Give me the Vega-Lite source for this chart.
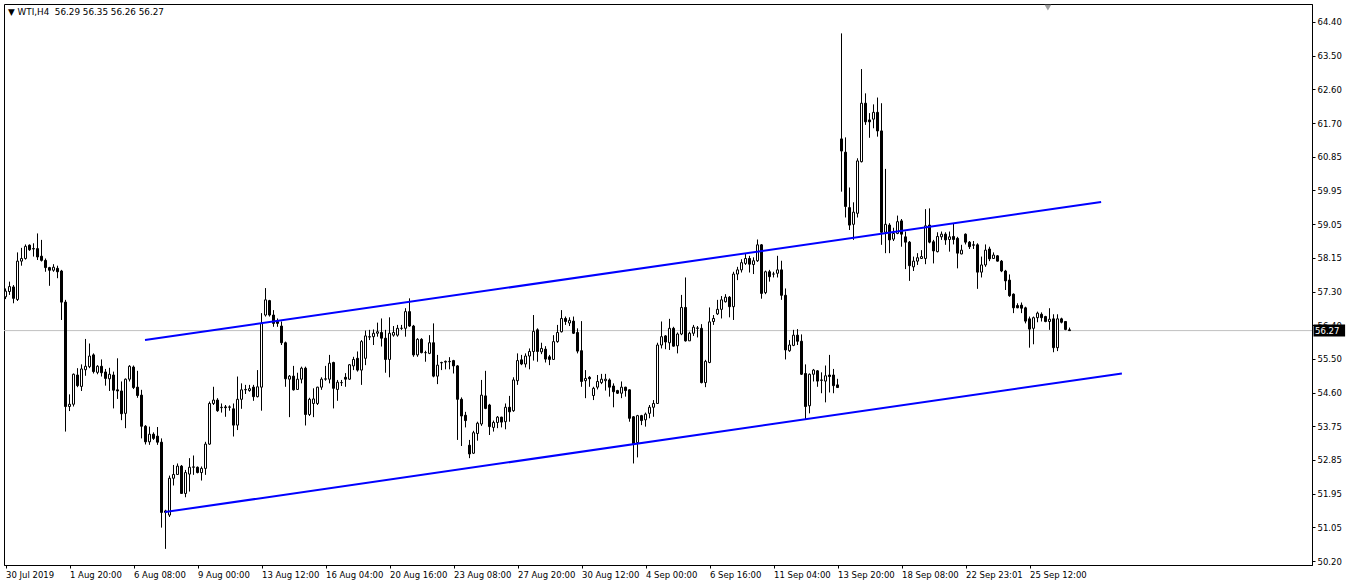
{
"$schema":"https://vega.github.io/schema/vega-lite/v6.json",
"width":1308,"height":561,"autosize":{"type":"none"},
"padding":{"left":4,"top":4,"right":42,"bottom":23},
"background":"white",
"title":{"text":"▼ WTI,H4\u00a0\u00a056.29 56.35 56.26 56.27","anchor":"start","frame":"group","offset":0,"dx":4,"dy":20,"baseline":"alphabetic","font":"DejaVu Sans","fontSize":8.8,"fontWeight":"normal","color":"black"},
"config":{"view":{"stroke":"black","strokeWidth":1},
"scale":{"continuousPadding":0},
"axis":{"grid":false,"domainColor":"black","tickColor":"black","labelColor":"black","labelFont":"DejaVu Sans","labelFontSize":8.5,"title":null,"domainWidth":1,"tickWidth":1,"labelOverlap":false,"labelFlush":false,"labelBound":false,"tickCount":200}},
"datasets":{
"bars":[
{"i":0,"o":57.16,"h":57.38,"l":57.10,"c":57.31},
{"i":1,"o":57.30,"h":57.56,"l":57.21,"c":57.43},
{"i":2,"o":57.42,"h":57.47,"l":56.99,"c":57.12},
{"i":3,"o":57.09,"h":58.33,"l":57.05,"c":58.10},
{"i":4,"o":58.10,"h":58.45,"l":57.98,"c":58.17},
{"i":5,"o":58.17,"h":58.54,"l":58.14,"c":58.49},
{"i":6,"o":58.52,"h":58.54,"l":58.37,"c":58.40},
{"i":7,"o":58.43,"h":58.57,"l":58.22,"c":58.42},
{"i":8,"o":58.43,"h":58.83,"l":58.13,"c":58.21},
{"i":9,"o":58.23,"h":58.66,"l":58.09,"c":58.12},
{"i":10,"o":58.12,"h":58.17,"l":57.82,"c":57.93},
{"i":11,"o":57.93,"h":57.95,"l":57.45,"c":57.86},
{"i":12,"o":57.86,"h":58.02,"l":57.82,"c":57.94},
{"i":13,"o":57.91,"h":57.98,"l":57.65,"c":57.82},
{"i":14,"o":57.84,"h":57.87,"l":56.55,"c":57.02},
{"i":15,"o":57.02,"h":57.08,"l":53.61,"c":54.27},
{"i":16,"o":54.27,"h":54.59,"l":54.15,"c":54.33},
{"i":17,"o":54.33,"h":55.14,"l":54.27,"c":55.12},
{"i":18,"o":55.10,"h":55.28,"l":54.78,"c":54.82},
{"i":19,"o":54.80,"h":55.38,"l":54.68,"c":55.26},
{"i":20,"o":55.24,"h":56.05,"l":55.08,"c":55.33},
{"i":21,"o":55.32,"h":55.93,"l":55.28,"c":55.60},
{"i":22,"o":55.63,"h":55.67,"l":55.14,"c":55.19},
{"i":23,"o":55.17,"h":55.36,"l":55.12,"c":55.33},
{"i":24,"o":55.33,"h":55.51,"l":55.06,"c":55.16},
{"i":25,"o":55.18,"h":55.26,"l":54.82,"c":55.01},
{"i":26,"o":55.00,"h":55.29,"l":54.68,"c":55.12},
{"i":27,"o":55.10,"h":55.19,"l":54.22,"c":54.70},
{"i":28,"o":54.71,"h":55.54,"l":54.47,"c":54.68},
{"i":29,"o":54.68,"h":54.93,"l":53.91,"c":54.08},
{"i":30,"o":54.09,"h":55.01,"l":53.70,"c":54.99},
{"i":31,"o":54.99,"h":55.36,"l":54.93,"c":55.33},
{"i":32,"o":55.31,"h":55.35,"l":54.73,"c":54.77},
{"i":33,"o":54.78,"h":55.21,"l":54.50,"c":54.56},
{"i":34,"o":54.57,"h":54.71,"l":53.43,"c":53.75},
{"i":35,"o":53.75,"h":53.78,"l":53.27,"c":53.34},
{"i":36,"o":53.34,"h":53.74,"l":53.26,"c":53.54},
{"i":37,"o":53.54,"h":53.59,"l":53.39,"c":53.43},
{"i":38,"o":53.49,"h":53.73,"l":53.26,"c":53.33},
{"i":39,"o":53.33,"h":53.43,"l":51.08,"c":51.48},
{"i":40,"o":51.48,"h":51.55,"l":50.52,"c":51.52},
{"i":41,"o":51.41,"h":52.45,"l":51.36,"c":52.38},
{"i":42,"o":52.38,"h":52.73,"l":52.19,"c":52.48},
{"i":43,"o":52.48,"h":52.77,"l":52.47,"c":52.70},
{"i":44,"o":52.70,"h":52.73,"l":51.97,"c":51.98},
{"i":45,"o":51.98,"h":52.60,"l":51.88,"c":52.53},
{"i":46,"o":52.49,"h":52.91,"l":52.03,"c":52.67},
{"i":47,"o":52.67,"h":52.98,"l":52.47,"c":52.68},
{"i":48,"o":52.67,"h":52.69,"l":52.51,"c":52.53},
{"i":49,"o":52.53,"h":52.69,"l":52.32,"c":52.64},
{"i":50,"o":52.64,"h":53.34,"l":52.47,"c":53.28},
{"i":51,"o":53.28,"h":54.40,"l":53.26,"c":54.35},
{"i":52,"o":54.35,"h":54.79,"l":54.31,"c":54.44},
{"i":53,"o":54.44,"h":54.49,"l":54.13,"c":54.16},
{"i":54,"o":54.24,"h":54.35,"l":54.11,"c":54.25},
{"i":55,"o":54.26,"h":54.31,"l":54.00,"c":54.24},
{"i":56,"o":54.25,"h":54.30,"l":54.16,"c":54.26},
{"i":57,"o":54.21,"h":54.35,"l":53.48,"c":53.78},
{"i":58,"o":53.78,"h":55.06,"l":53.65,"c":54.46},
{"i":59,"o":54.46,"h":54.88,"l":54.21,"c":54.71},
{"i":60,"o":54.71,"h":54.84,"l":54.60,"c":54.72},
{"i":61,"o":54.69,"h":54.84,"l":54.66,"c":54.74},
{"i":62,"o":54.78,"h":54.84,"l":54.42,"c":54.53},
{"i":63,"o":54.53,"h":55.23,"l":54.51,"c":54.79},
{"i":64,"o":54.78,"h":56.73,"l":54.16,"c":56.46},
{"i":65,"o":56.68,"h":57.39,"l":56.64,"c":57.08},
{"i":66,"o":57.06,"h":57.08,"l":56.64,"c":56.68},
{"i":67,"o":56.68,"h":56.81,"l":56.37,"c":56.46},
{"i":68,"o":56.51,"h":56.59,"l":56.37,"c":56.46},
{"i":69,"o":56.39,"h":56.51,"l":55.89,"c":55.95},
{"i":70,"o":55.95,"h":55.98,"l":54.79,"c":55.00},
{"i":71,"o":54.99,"h":55.10,"l":53.99,"c":55.07},
{"i":72,"o":55.07,"h":55.34,"l":54.69,"c":54.71},
{"i":73,"o":54.72,"h":55.16,"l":54.71,"c":54.99},
{"i":74,"o":54.99,"h":55.32,"l":54.88,"c":55.28},
{"i":75,"o":55.28,"h":55.32,"l":53.77,"c":54.06},
{"i":76,"o":54.06,"h":54.50,"l":54.02,"c":54.46},
{"i":77,"o":54.35,"h":54.75,"l":53.99,"c":54.47},
{"i":78,"o":54.35,"h":54.79,"l":54.31,"c":54.78},
{"i":79,"o":54.78,"h":55.04,"l":54.71,"c":54.99},
{"i":80,"o":54.99,"h":55.34,"l":54.95,"c":55.00},
{"i":81,"o":54.99,"h":55.63,"l":54.88,"c":55.41},
{"i":82,"o":55.43,"h":55.45,"l":54.22,"c":54.75},
{"i":83,"o":54.72,"h":54.97,"l":54.42,"c":54.91},
{"i":84,"o":54.90,"h":54.97,"l":54.81,"c":54.90},
{"i":85,"o":55.04,"h":55.15,"l":54.79,"c":54.99},
{"i":86,"o":54.99,"h":55.39,"l":54.97,"c":55.37},
{"i":87,"o":55.34,"h":55.58,"l":55.23,"c":55.51},
{"i":88,"o":55.54,"h":55.72,"l":55.19,"c":55.23},
{"i":89,"o":55.23,"h":56.02,"l":54.84,"c":55.98},
{"i":90,"o":55.54,"h":56.27,"l":55.36,"c":56.13},
{"i":91,"o":56.10,"h":56.29,"l":56.02,"c":56.11},
{"i":92,"o":56.11,"h":56.30,"l":55.89,"c":56.20},
{"i":93,"o":56.20,"h":56.48,"l":56.11,"c":56.24},
{"i":94,"o":56.22,"h":56.59,"l":55.85,"c":56.07},
{"i":95,"o":56.07,"h":56.29,"l":55.16,"c":55.51},
{"i":96,"o":55.51,"h":56.62,"l":55.04,"c":56.20},
{"i":97,"o":56.15,"h":56.39,"l":56.11,"c":56.22},
{"i":98,"o":56.15,"h":56.42,"l":56.11,"c":56.33},
{"i":99,"o":56.33,"h":56.42,"l":56.29,"c":56.33},
{"i":100,"o":56.33,"h":56.86,"l":56.11,"c":56.77},
{"i":101,"o":56.77,"h":57.12,"l":56.37,"c":56.39},
{"i":102,"o":56.39,"h":56.42,"l":55.58,"c":55.63},
{"i":103,"o":55.63,"h":56.07,"l":55.58,"c":56.04},
{"i":104,"o":56.04,"h":56.07,"l":55.67,"c":55.69},
{"i":105,"o":55.69,"h":55.74,"l":55.45,"c":55.69},
{"i":106,"o":55.67,"h":56.15,"l":55.65,"c":55.95},
{"i":107,"o":55.95,"h":56.46,"l":55.04,"c":55.07},
{"i":108,"o":55.07,"h":55.63,"l":54.86,"c":55.36},
{"i":109,"o":55.42,"h":55.45,"l":55.23,"c":55.43},
{"i":110,"o":55.44,"h":55.48,"l":55.25,"c":55.46},
{"i":111,"o":55.45,"h":55.57,"l":55.25,"c":55.46},
{"i":112,"o":55.48,"h":55.50,"l":55.14,"c":55.34},
{"i":113,"o":55.34,"h":55.36,"l":53.39,"c":54.46},
{"i":114,"o":54.46,"h":54.51,"l":53.23,"c":54.02},
{"i":115,"o":54.04,"h":54.13,"l":53.72,"c":53.90},
{"i":116,"o":53.25,"h":53.39,"l":52.91,"c":53.02},
{"i":117,"o":53.04,"h":53.63,"l":53.02,"c":53.58},
{"i":118,"o":53.56,"h":53.87,"l":53.37,"c":53.83},
{"i":119,"o":53.81,"h":54.97,"l":53.76,"c":54.57},
{"i":120,"o":54.55,"h":55.21,"l":54.20,"c":54.22},
{"i":121,"o":54.31,"h":54.34,"l":53.52,"c":53.74},
{"i":122,"o":53.72,"h":53.90,"l":53.61,"c":53.85},
{"i":123,"o":53.85,"h":54.02,"l":53.70,"c":53.99},
{"i":124,"o":53.99,"h":54.00,"l":53.72,"c":53.86},
{"i":125,"o":53.87,"h":54.35,"l":53.67,"c":54.25},
{"i":126,"o":54.25,"h":54.55,"l":53.87,"c":54.13},
{"i":127,"o":54.16,"h":55.04,"l":54.13,"c":54.97},
{"i":128,"o":54.95,"h":55.67,"l":54.84,"c":55.48},
{"i":129,"o":55.50,"h":55.63,"l":55.36,"c":55.39},
{"i":130,"o":55.39,"h":55.67,"l":55.30,"c":55.60},
{"i":131,"o":55.60,"h":55.80,"l":55.25,"c":55.72},
{"i":132,"o":55.72,"h":56.68,"l":55.48,"c":56.25},
{"i":133,"o":56.29,"h":56.33,"l":55.45,"c":55.72},
{"i":134,"o":55.71,"h":55.95,"l":55.65,"c":55.80},
{"i":135,"o":55.78,"h":55.86,"l":55.43,"c":55.52},
{"i":136,"o":55.58,"h":55.63,"l":55.36,"c":55.51},
{"i":137,"o":55.51,"h":56.15,"l":55.50,"c":55.98},
{"i":138,"o":55.98,"h":56.42,"l":55.95,"c":56.22},
{"i":139,"o":56.24,"h":56.81,"l":56.22,"c":56.59},
{"i":140,"o":56.59,"h":56.64,"l":56.42,"c":56.51},
{"i":141,"o":56.47,"h":56.62,"l":56.39,"c":56.54},
{"i":142,"o":56.52,"h":56.64,"l":56.18,"c":56.20},
{"i":143,"o":56.22,"h":56.33,"l":55.67,"c":55.73},
{"i":144,"o":55.74,"h":56.52,"l":54.79,"c":54.93},
{"i":145,"o":54.95,"h":55.23,"l":54.49,"c":55.01},
{"i":146,"o":55.04,"h":55.07,"l":54.79,"c":55.00},
{"i":147,"o":54.56,"h":54.79,"l":54.44,"c":54.75},
{"i":148,"o":54.78,"h":55.10,"l":54.72,"c":54.93},
{"i":149,"o":54.90,"h":55.13,"l":54.86,"c":54.99},
{"i":150,"o":54.95,"h":55.13,"l":54.69,"c":54.99},
{"i":151,"o":54.97,"h":55.01,"l":54.53,"c":54.78},
{"i":152,"o":54.81,"h":54.88,"l":54.25,"c":54.66},
{"i":153,"o":54.69,"h":54.71,"l":54.60,"c":54.62},
{"i":154,"o":54.62,"h":54.93,"l":54.49,"c":54.78},
{"i":155,"o":54.78,"h":54.79,"l":54.53,"c":54.69},
{"i":156,"o":54.71,"h":54.72,"l":53.87,"c":53.96},
{"i":157,"o":54.00,"h":54.02,"l":52.77,"c":53.28},
{"i":158,"o":53.32,"h":54.05,"l":52.93,"c":54.03},
{"i":159,"o":54.03,"h":54.05,"l":53.78,"c":53.90},
{"i":160,"o":53.92,"h":54.11,"l":53.74,"c":54.07},
{"i":161,"o":54.09,"h":54.31,"l":53.96,"c":54.25},
{"i":162,"o":54.25,"h":54.44,"l":54.00,"c":54.35},
{"i":163,"o":54.35,"h":55.95,"l":54.34,"c":55.89},
{"i":164,"o":55.89,"h":56.51,"l":55.80,"c":56.11},
{"i":165,"o":56.13,"h":56.15,"l":55.78,"c":55.97},
{"i":166,"o":55.95,"h":56.58,"l":55.76,"c":56.33},
{"i":167,"o":56.33,"h":56.37,"l":55.85,"c":55.86},
{"i":168,"o":55.87,"h":56.22,"l":55.67,"c":56.18},
{"i":169,"o":56.18,"h":57.21,"l":56.15,"c":56.88},
{"i":170,"o":56.88,"h":57.67,"l":55.98,"c":56.00},
{"i":171,"o":56.00,"h":56.24,"l":56.00,"c":56.20},
{"i":172,"o":56.20,"h":56.42,"l":56.13,"c":56.36},
{"i":173,"o":56.33,"h":56.39,"l":56.09,"c":56.34},
{"i":174,"o":56.33,"h":56.44,"l":54.88,"c":54.90},
{"i":175,"o":54.90,"h":55.50,"l":54.78,"c":55.46},
{"i":176,"o":55.43,"h":56.88,"l":55.41,"c":56.50},
{"i":177,"o":56.51,"h":56.68,"l":56.42,"c":56.59},
{"i":178,"o":56.71,"h":57.08,"l":56.68,"c":56.83},
{"i":179,"o":56.83,"h":57.18,"l":56.59,"c":57.08},
{"i":180,"o":57.03,"h":57.23,"l":57.01,"c":57.15},
{"i":181,"o":57.15,"h":57.18,"l":56.62,"c":56.90},
{"i":182,"o":56.90,"h":57.82,"l":56.55,"c":57.76},
{"i":183,"o":57.76,"h":57.95,"l":57.60,"c":57.87},
{"i":184,"o":57.87,"h":58.15,"l":57.80,"c":58.06},
{"i":185,"o":58.04,"h":58.31,"l":58.00,"c":58.17},
{"i":186,"o":58.17,"h":58.24,"l":57.80,"c":58.02},
{"i":187,"o":58.01,"h":58.20,"l":57.76,"c":58.11},
{"i":188,"o":58.11,"h":58.67,"l":58.08,"c":58.53},
{"i":189,"o":58.53,"h":58.55,"l":57.11,"c":57.25},
{"i":190,"o":57.27,"h":57.85,"l":57.23,"c":57.82},
{"i":191,"o":57.82,"h":57.87,"l":57.56,"c":57.69},
{"i":192,"o":57.76,"h":57.82,"l":57.67,"c":57.76},
{"i":193,"o":57.78,"h":58.24,"l":57.67,"c":57.87},
{"i":194,"o":57.87,"h":58.11,"l":57.08,"c":57.20},
{"i":195,"o":57.20,"h":57.38,"l":55.51,"c":55.76},
{"i":196,"o":55.74,"h":56.02,"l":55.71,"c":55.89},
{"i":197,"o":55.88,"h":56.29,"l":55.86,"c":56.15},
{"i":198,"o":56.15,"h":56.31,"l":55.89,"c":55.99},
{"i":199,"o":55.99,"h":56.17,"l":55.10,"c":55.12},
{"i":200,"o":55.14,"h":55.38,"l":53.92,"c":54.27},
{"i":201,"o":54.29,"h":55.14,"l":54.09,"c":55.12},
{"i":202,"o":55.12,"h":55.26,"l":54.93,"c":55.23},
{"i":203,"o":55.21,"h":55.23,"l":54.79,"c":54.94},
{"i":204,"o":54.97,"h":55.17,"l":54.62,"c":54.96},
{"i":205,"o":54.94,"h":55.35,"l":54.38,"c":55.08},
{"i":206,"o":55.10,"h":55.63,"l":54.64,"c":55.06},
{"i":207,"o":55.10,"h":55.26,"l":54.62,"c":54.82},
{"i":208,"o":54.84,"h":55.00,"l":54.77,"c":54.77},
{"i":209,"o":61.32,"h":64.10,"l":59.93,"c":61.00},
{"i":210,"o":60.97,"h":61.36,"l":59.25,"c":59.54},
{"i":211,"o":59.51,"h":60.04,"l":58.92,"c":59.05},
{"i":212,"o":59.07,"h":59.65,"l":58.66,"c":59.39},
{"i":213,"o":59.36,"h":60.81,"l":59.25,"c":60.74},
{"i":214,"o":60.72,"h":63.16,"l":60.70,"c":62.26},
{"i":215,"o":62.26,"h":62.52,"l":61.69,"c":61.77},
{"i":216,"o":61.82,"h":62.00,"l":61.35,"c":61.77},
{"i":217,"o":61.84,"h":62.23,"l":61.60,"c":62.02},
{"i":218,"o":62.02,"h":62.41,"l":61.38,"c":61.53},
{"i":219,"o":61.53,"h":62.26,"l":58.53,"c":58.86},
{"i":220,"o":58.86,"h":60.53,"l":58.31,"c":59.07},
{"i":221,"o":59.05,"h":59.10,"l":58.31,"c":58.66},
{"i":222,"o":58.68,"h":58.98,"l":58.63,"c":58.83},
{"i":223,"o":58.83,"h":59.30,"l":58.81,"c":59.14},
{"i":224,"o":59.16,"h":59.21,"l":58.48,"c":58.81},
{"i":225,"o":58.74,"h":58.88,"l":57.89,"c":58.60},
{"i":226,"o":58.60,"h":58.63,"l":57.58,"c":57.98},
{"i":227,"o":57.95,"h":58.22,"l":57.84,"c":58.10},
{"i":228,"o":58.10,"h":58.31,"l":58.00,"c":58.19},
{"i":229,"o":58.17,"h":58.39,"l":58.16,"c":58.22},
{"i":230,"o":58.17,"h":59.47,"l":58.02,"c":59.03},
{"i":231,"o":59.05,"h":59.49,"l":58.57,"c":58.60},
{"i":232,"o":58.61,"h":58.66,"l":58.04,"c":58.37},
{"i":233,"o":58.35,"h":58.86,"l":58.33,"c":58.75},
{"i":234,"o":58.74,"h":58.88,"l":58.66,"c":58.81},
{"i":235,"o":58.81,"h":58.86,"l":58.53,"c":58.66},
{"i":236,"o":58.67,"h":58.88,"l":58.35,"c":58.74},
{"i":237,"o":58.75,"h":59.10,"l":58.54,"c":58.67},
{"i":238,"o":58.70,"h":58.74,"l":57.91,"c":58.31},
{"i":239,"o":58.29,"h":58.53,"l":58.28,"c":58.39},
{"i":240,"o":58.81,"h":58.83,"l":58.54,"c":58.60},
{"i":241,"o":58.60,"h":58.63,"l":58.42,"c":58.48},
{"i":242,"o":58.53,"h":58.63,"l":58.42,"c":58.52},
{"i":243,"o":58.53,"h":58.57,"l":57.37,"c":57.81},
{"i":244,"o":57.81,"h":58.22,"l":57.67,"c":58.00},
{"i":245,"o":58.00,"h":58.54,"l":57.95,"c":58.39},
{"i":246,"o":58.42,"h":58.48,"l":58.10,"c":58.16},
{"i":247,"o":58.17,"h":58.33,"l":58.16,"c":58.26},
{"i":248,"o":58.24,"h":58.26,"l":58.09,"c":58.10},
{"i":249,"o":58.10,"h":58.13,"l":57.81,"c":57.84},
{"i":250,"o":57.84,"h":57.87,"l":57.34,"c":57.58},
{"i":251,"o":57.60,"h":57.75,"l":57.16,"c":57.19},
{"i":252,"o":57.23,"h":57.25,"l":56.73,"c":56.87},
{"i":253,"o":56.93,"h":56.99,"l":56.86,"c":56.87},
{"i":254,"o":56.94,"h":57.01,"l":56.73,"c":56.86},
{"i":255,"o":56.87,"h":56.90,"l":56.46,"c":56.52},
{"i":256,"o":56.58,"h":56.64,"l":55.82,"c":56.31},
{"i":257,"o":56.33,"h":56.64,"l":55.91,"c":56.61},
{"i":258,"o":56.61,"h":56.77,"l":56.49,"c":56.73},
{"i":259,"o":56.70,"h":56.75,"l":56.51,"c":56.61},
{"i":260,"o":56.64,"h":56.66,"l":56.49,"c":56.51},
{"i":261,"o":56.51,"h":56.86,"l":56.29,"c":56.57},
{"i":262,"o":56.58,"h":56.70,"l":55.70,"c":55.82},
{"i":263,"o":55.82,"h":56.70,"l":55.73,"c":56.58},
{"i":264,"o":56.58,"h":56.61,"l":56.46,"c":56.49},
{"i":265,"o":56.51,"h":56.52,"l":56.28,"c":56.30},
{"i":266,"o":56.29,"h":56.35,"l":56.26,"c":56.27}
],
"channel":[
{"g":"upper","i":34.875,"p":56.02},
{"g":"upper","i":273.9,"p":59.66},
{"g":"lower","i":39.875,"p":51.49},
{"g":"lower","i":279.1,"p":55.14}
],
"last":[{"p":56.27}]
},
"layer":[
{"data":{"name":"last"},"mark":{"type":"rule","color":"#C0C0C0","strokeWidth":1},
 "encoding":{"y":{"field":"p","type":"quantitative","scale":{"domain":[50.095,64.874],"zero":false,"nice":false,"padding":0}}}},
{"data":{"name":"bars"},"mark":{"type":"rule","color":"black","strokeWidth":1},
 "encoding":{
  "x":{"field":"i","type":"quantitative","scale":{"domain":[-0.375,326.625],"zero":false,"nice":false,"padding":0},
       "axis":{"orient":"bottom","values":[0,16,32,48,64,80,96,112,128,144,160,176,192,208,224,240,256],"tickCount":200,
       "labelExpr":"['30 Jul 2019','1 Aug 20:00','6 Aug 08:00','9 Aug 00:00','13 Aug 12:00','16 Aug 04:00','20 Aug 16:00','23 Aug 08:00','27 Aug 20:00','30 Aug 12:00','4 Sep 00:00','6 Sep 16:00','11 Sep 04:00','13 Sep 20:00','18 Sep 08:00','22 Sep 23:01','25 Sep 12:00'][round(datum.value/16)]",
       "labelAlign":"left","labelBaseline":"top","tickSize":3,"labelPadding":2,"labelFlush":false,"labelOverlap":false,"labelOffset":0}},
  "y":{"field":"l","type":"quantitative","scale":{"domain":[50.095,64.874],"zero":false,"nice":false,"padding":0},
       "axis":{"orient":"right","values":[50.2,51.0875,51.975,52.8625,53.75,54.6375,55.525,56.4125,57.3,58.1875,59.075,59.9625,60.85,61.7375,62.625,63.5125,64.4],"tickCount":200,
       "labelExpr":"format(floor(datum.value*20+0.001)/20,'.2f')","tickSize":3,"labelPadding":2,"labelFlush":false,"labelOverlap":false}},
  "y2":{"field":"h"}}},
{"data":{"name":"bars"},"mark":{"type":"bar","size":2,"stroke":"black","strokeWidth":1},
 "encoding":{
  "x":{"field":"i","type":"quantitative","scale":{"domain":[-0.375,326.625],"zero":false,"nice":false,"padding":0}},
  "y":{"field":"o","type":"quantitative","scale":{"domain":[50.095,64.874],"zero":false,"nice":false,"padding":0}},
  "y2":{"field":"c"},
  "fill":{"condition":{"test":"datum.c > datum.o","value":"white"},"value":"black"}}},
{"data":{"name":"channel"},"mark":{"type":"line","color":"#0000FF","strokeWidth":2},
 "encoding":{
  "x":{"field":"i","type":"quantitative","scale":{"domain":[-0.375,326.625],"zero":false,"nice":false,"padding":0}},
  "y":{"field":"p","type":"quantitative","scale":{"domain":[50.095,64.874],"zero":false,"nice":false,"padding":0}},
  "detail":{"field":"g"}}},
{"data":{"name":"last"},"mark":{"type":"bar","orient":"horizontal","size":12,"color":"black","clip":false},
 "encoding":{
  "x":{"datum":327.0,"type":"quantitative","scale":{"domain":[-0.375,326.625],"zero":false,"nice":false,"padding":0}},
  "x2":{"datum":334.9},
  "y":{"field":"p","type":"quantitative","scale":{"domain":[50.095,64.874],"zero":false,"nice":false,"padding":0}}}},
{"data":{"name":"last"},"mark":{"type":"text","align":"left","baseline":"middle","color":"white","font":"DejaVu Sans","fontSize":8.5,"clip":false},
 "encoding":{
  "x":{"datum":327.4,"type":"quantitative","scale":{"domain":[-0.375,326.625],"zero":false,"nice":false,"padding":0}},
  "y":{"field":"p","type":"quantitative","scale":{"domain":[50.095,64.874],"zero":false,"nice":false,"padding":0}},
  "text":{"field":"p","type":"quantitative","format":".2f"}}},
{"data":{"name":"last"},"mark":{"type":"point","shape":"triangle-down","filled":true,"color":"#A0A0A0","size":45,"opacity":1},
 "encoding":{
  "x":{"datum":260.6,"type":"quantitative","scale":{"domain":[-0.375,326.625],"zero":false,"nice":false,"padding":0}},
  "y":{"datum":64.78,"type":"quantitative","scale":{"domain":[50.095,64.874],"zero":false,"nice":false,"padding":0}}}}
]
}
